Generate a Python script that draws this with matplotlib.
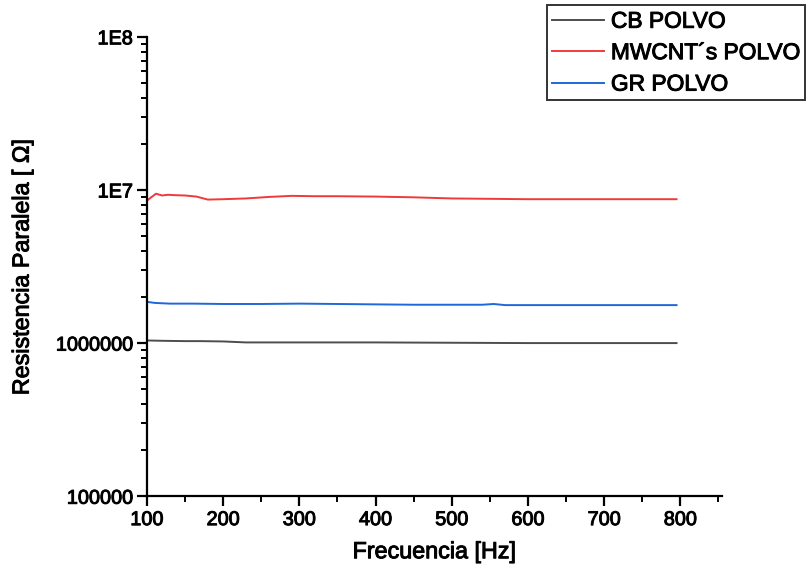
import numpy as np
import matplotlib
matplotlib.use('Agg')
import matplotlib.pyplot as plt
import matplotlib.patheffects as pe
from matplotlib.ticker import FixedLocator, FixedFormatter, LogLocator, NullFormatter, MultipleLocator

plt.rcParams['font.family'] = ['Liberation Sans', 'DejaVu Sans']

# datos
freq_cb = [100, 120, 150, 170, 200, 230, 300, 400, 500, 600, 700, 795]
r_cb = [1.04e6, 1.035e6, 1.03e6, 1.03e6, 1.025e6, 1.01e6, 1.01e6, 1.01e6, 1.005e6, 1.0e6, 1.0e6, 1.0e6]

freq_mw = [100, 105, 112, 120, 128, 135, 150, 165, 180, 200, 230, 260, 290, 320, 350,
           400, 450, 500, 550, 600, 700, 795]
r_mw = [8.5e6, 8.9e6, 9.45e6, 9.2e6, 9.3e6, 9.25e6, 9.2e6, 9.05e6, 8.65e6, 8.7e6, 8.8e6,
        9.0e6, 9.15e6, 9.1e6, 9.1e6, 9.05e6, 8.95e6, 8.8e6, 8.75e6, 8.7e6, 8.7e6, 8.7e6]

freq_gr = [100, 110, 130, 160, 200, 250, 300, 350, 400, 450, 500, 540, 555, 570, 600, 700, 795]
r_gr = [1.86e6, 1.83e6, 1.81e6, 1.81e6, 1.8e6, 1.8e6, 1.81e6, 1.8e6, 1.79e6, 1.78e6,
        1.78e6, 1.78e6, 1.8e6, 1.77e6, 1.77e6, 1.77e6, 1.77e6]

series = ['CB POLVO', 'MWCNT´s POLVO', 'GR POLVO']
colors = ['#4d4d4d', '#f0393c', '#1f68d8']

y_ticks = [1e5, 1e6, 1e7, 1e8]
y_labels = ['100000', '1000000', '1E7', '1E8']
x_ticks = [100, 200, 300, 400, 500, 600, 700, 800]

# trazo fino para que el texto se vea un poco más grueso
heavy = [pe.withStroke(linewidth=0.7, foreground='black')]

fig = plt.figure(figsize=(8.07, 5.75), dpi=100)
ax = fig.add_axes([0.182, 0.137, 0.713, 0.799])

lines = []
for f, r, lab, c in zip([freq_cb, freq_mw, freq_gr], [r_cb, r_mw, r_gr], series, colors):
    l, = ax.plot(f, r, color=c, lw=1.4, label=lab)
    lines.append(l)

ax.set_yscale('log')
ax.set_ylim(1e5, 1e8)
ax.set_xlim(100, 855)

ax.yaxis.set_major_locator(FixedLocator(y_ticks))
ax.yaxis.set_major_formatter(FixedFormatter(y_labels))
ax.yaxis.set_minor_locator(LogLocator(base=10, subs=np.arange(2, 10)))
ax.yaxis.set_minor_formatter(NullFormatter())
ax.xaxis.set_major_locator(FixedLocator(x_ticks))
ax.xaxis.set_minor_locator(MultipleLocator(50))

for s in ['top', 'right']:
    ax.spines[s].set_visible(False)
for s in ['left', 'bottom']:
    ax.spines[s].set_linewidth(1.6)

ax.tick_params(which='major', direction='out', length=7, width=1.6, labelsize=14.3, pad=3)
ax.tick_params(which='minor', direction='out', length=4, width=1.4)
for t in ax.get_xticklabels() + ax.get_yticklabels():
    t.set_path_effects(heavy)

ax.set_xlabel('Frecuencia [Hz]', fontsize=16.8, labelpad=8, path_effects=heavy)
ax.set_ylabel('Resistencia Paralela [ Ω]', fontsize=16.8, labelpad=16, path_effects=heavy)

leg = fig.legend(handles=lines, loc='upper left', bbox_to_anchor=(0.678, 0.991),
                 fontsize=16.4, frameon=True, fancybox=False, edgecolor='black',
                 handlelength=2.3, borderpad=0.2, labelspacing=0.37, handletextpad=0.3,
                 borderaxespad=0)
leg.get_frame().set_linewidth(1.4)
for t in leg.get_texts():
    t.set_path_effects(heavy)

plt.savefig('out.png', dpi=100)
